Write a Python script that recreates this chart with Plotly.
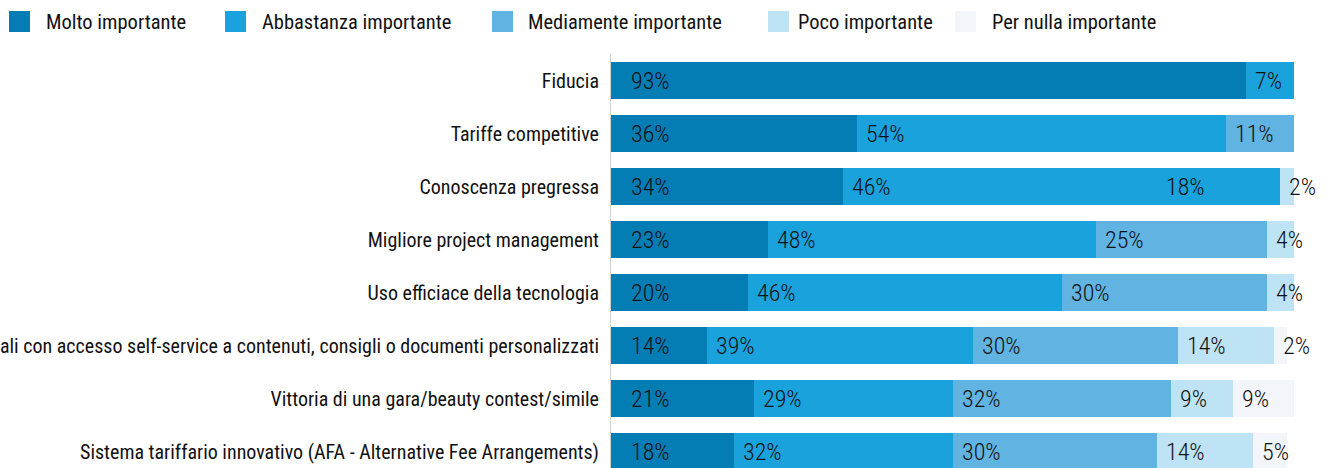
import plotly.graph_objects as go

categories = [
    "Fiducia",
    "Tariffe competitive",
    "Conoscenza pregressa",
    "Migliore project management",
    "Uso efficiace della tecnologia",
    "ali con accesso self-service a contenuti, consigli o documenti personalizzati",
    "Vittoria di una gara/beauty contest/simile",
    "Sistema tariffario innovativo (AFA - Alternative Fee Arrangements)",
]
series_names = ["Molto importante", "Abbastanza importante", "Mediamente importante",
                "Poco importante", "Per nulla importante"]
molto = [93, 36, 34, 23, 20, 14, 21, 18]
abbastanza = [7, 54, 46, 48, 46, 39, 29, 32]
mediamente = [0, 11, 18, 25, 30, 30, 32, 30]
poco = [0, 0, 2, 4, 4, 14, 9, 14]
per_nulla = [0, 0, 0, 0, 0, 2, 9, 5]
series_values = [molto, abbastanza, mediamente, poco, per_nulla]

colors = ["#047cb4", "#19a2dc", "#61b3e1", "#bee3f5", "#f2f6fa"]
FONT = "Roboto Condensed, Open Sans, sans-serif"
TXT = "#111111"

# layout geometry (pixels)
W, H = 1336, 468
L, T = 611, 54
PW = 683
PH = H - T

fig = go.Figure()
for i, (name, vals) in enumerate(zip(series_names, series_values)):
    cols = [colors[i]] * len(vals)
    if i == 2:
        # in the reference the 3rd row's "Mediamente" segment shares the previous colour
        cols[2] = colors[1]
    fig.add_trace(go.Bar(
        name=name, y=categories, x=vals, orientation="h",
        marker=dict(color=cols, line=dict(width=0)),
        showlegend=False, hoverinfo="x+y+name",
    ))

# value labels
annotations = []
for j, cat in enumerate(categories):
    start = 0
    for i, vals in enumerate(series_values):
        v = vals[j]
        if v > 0:
            annotations.append(dict(
                x=start, y=cat, xref="x", yref="y", text=f"{v}%",
                showarrow=False, xanchor="left", yanchor="middle", align="left",
                xshift=18 if i == 0 else 7,
                font=dict(family=FONT, size=24, color=TXT, weight=300),
            ))
        start += v

# manual legend
def px2paper_x(px):
    return (px - L) / PW

def px2paper_y(py):
    return (H - py) / PH

legend_sq = [9, 225, 492, 768, 955]
legend_tx = [44, 260, 526, 796, 990]
shapes = []
for i, name in enumerate(series_names):
    shapes.append(dict(
        type="rect", xref="paper", yref="paper",
        x0=px2paper_x(legend_sq[i]), x1=px2paper_x(legend_sq[i] + 21),
        y0=px2paper_y(32), y1=px2paper_y(11),
        fillcolor=colors[i], line=dict(width=0), layer="above",
    ))
    annotations.append(dict(
        x=px2paper_x(legend_tx[i]), y=px2paper_y(22), xref="paper", yref="paper",
        text=name, showarrow=False, xanchor="left", yanchor="middle", align="left",
        font=dict(family=FONT, size=20.5, color=TXT),
    ))

fig.update_layout(
    barmode="stack",
    bargap=0.3,
    width=W, height=H,
    margin=dict(l=L, r=W - L - PW, t=T, b=0, pad=0),
    paper_bgcolor="white", plot_bgcolor="white",
    font=dict(family=FONT, size=20, color=TXT),
    annotations=annotations,
    shapes=shapes,
    showlegend=False,
    xaxis=dict(range=[0, 100], visible=False, fixedrange=True),
    yaxis=dict(
        categoryorder="array", categoryarray=categories,
        range=[7.31, -0.5], automargin=False,
        showline=True, linecolor="#cfcfcf", linewidth=1,
        showgrid=False, zeroline=False, ticks="",
        ticklabelstandoff=7,
        tickfont=dict(family=FONT, size=20, color=TXT),
        fixedrange=True,
    ),
)

fig.write_html("out.html", config={"displayModeBar": False},
               post_script="document.body.style.margin='0';")
